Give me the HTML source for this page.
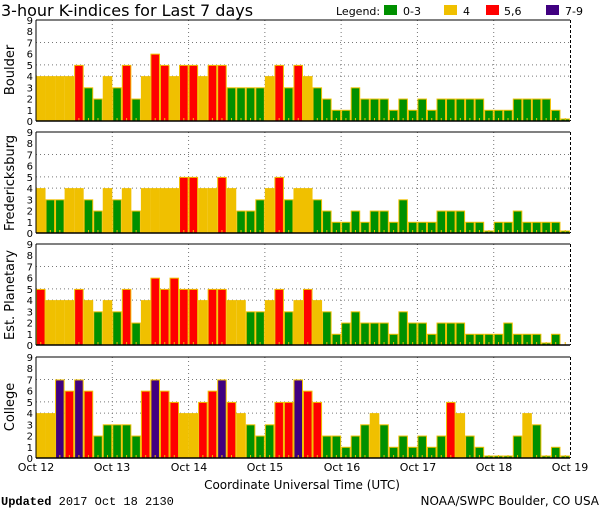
<!DOCTYPE html>
<html><head><meta charset="utf-8"><style>
html,body{margin:0;padding:0;background:#fff;}
svg{display:block;font-family:"DejaVu Sans","Liberation Sans",sans-serif;}
</style></head><body>
<svg id="s" width="600" height="510" xmlns="http://www.w3.org/2000/svg">
<text x="1" y="16" font-size="16">3-hour K-indices for Last 7 days</text>
<text x="336" y="15" font-size="11">Legend:</text>
<rect x="384" y="5" width="13" height="10" fill="#009000"/><text x="403" y="15" font-size="11">0-3</text>
<rect x="444" y="5" width="13" height="10" fill="#f0c000"/><text x="463" y="15" font-size="11">4</text>
<rect x="486" y="5" width="13" height="10" fill="#ff0000"/><text x="504" y="15" font-size="11">5,6</text>
<rect x="546" y="5" width="13" height="10" fill="#400080"/><text x="565" y="15" font-size="11">7-9</text>
<g font-size="13">
<text transform="translate(14,70) rotate(-90)" text-anchor="middle">Boulder</text>
<text transform="translate(14,183) rotate(-90)" text-anchor="middle">Fredericksburg</text>
<text transform="translate(14,295) rotate(-90)" text-anchor="middle">Est. Planetary</text>
<text transform="translate(14,407) rotate(-90)" text-anchor="middle">College</text>
</g>
<g font-size="11" text-anchor="middle">
<text x="36" y="471">Oct 12</text><text x="112" y="471">Oct 13</text><text x="189" y="471">Oct 14</text><text x="265" y="471">Oct 15</text><text x="342" y="471">Oct 16</text><text x="418" y="471">Oct 17</text><text x="494" y="471">Oct 18</text><text x="570" y="471">Oct 19</text>
</g>
<text x="302" y="489" font-size="12" text-anchor="middle">Coordinate Universal Time (UTC)</text>
<text x="1" y="505" font-size="12" font-family="Liberation Mono,monospace"><tspan font-weight="bold">Updated</tspan> 2017 Oct 18 2130</text>
<text x="599" y="505" font-size="12" text-anchor="end">NOAA/SWPC Boulder, CO USA</text>
<g id="g"></g>
</svg>
<script>
var D=[
[4,4,4,4,5,3,2,4,3,5,2,4,6,5,4,5,5,4,5,5,3,3,3,3,4,5,3,5,4,3,2,1,1,3,2,2,2,1,2,1,2,1,2,2,2,2,2,1,1,1,2,2,2,2,1,0],
[4,3,3,4,4,3,2,4,3,4,2,4,4,4,4,5,5,4,4,5,4,2,2,3,4,5,3,4,4,3,2,1,1,2,1,2,2,1,3,1,1,1,2,2,2,1,1,0,1,1,2,1,1,1,1,0],
[5,4,4,4,5,4,3,4,3,5,2,4,6,5,6,5,5,4,5,5,4,4,3,3,4,5,3,4,5,4,3,1,2,3,2,2,2,1,3,2,2,1,2,2,2,1,1,1,1,2,1,1,1,0,1,null],
[4,4,7,6,7,6,2,3,3,3,2,6,7,6,5,4,4,5,6,7,5,4,3,2,3,5,5,7,6,5,2,2,1,2,3,4,3,1,2,1,2,1,2,5,4,2,1,0,0,0,2,4,3,0,1,0]];
var tops=[20,132,244,357],H=101,x0=36,W=534,bw=W/56,u=H/9;
var h='';
function col(v){return v<=3?'#009000':v==4?'#f0c000':v<=6?'#ff0000':'#400080';}
for(var p=0;p<4;p++){var t=tops[p],b=t+H;
 [4,5,7].forEach(function(k){var y=b-k*u;h+='<line x1="36" x2="570" y1="'+y+'" y2="'+y+'" stroke="#777" stroke-dasharray="1,3"/>';});
 for(var d=1;d<7;d++){var x=x0+d*W/7;h+='<line x1="'+x+'" x2="'+x+'" y1="'+t+'" y2="'+b+'" stroke="#777" stroke-dasharray="1,3"/>';}
 for(var i=0;i<56;i++){var v=D[p][i];if(v==null)continue;var hh=v==0?2.5:v*u;var x=x0+i*bw;
  h+='<rect x="'+(x+0.5)+'" y="'+(b-hh+0.5)+'" width="'+(bw-1)+'" height="'+(hh-0.5)+'" fill="'+col(v)+'" stroke="#f0c000" stroke-width="1"/>';}
 for(var i=0;i<56;i++){var x=x0+i*bw+bw/2;h+='<line x1="'+x+'" x2="'+x+'" y1="'+(b-3)+'" y2="'+b+'" stroke="#f0c000"/>';}
 h+='<line x1="36" x2="570" y1="'+t+'" y2="'+t+'" stroke="#000"/>';
 h+='<line x1="36" x2="570" y1="'+b+'" y2="'+b+'" stroke="#000" stroke-width="1.5"/>';
 h+='<line x1="36" x2="36" y1="'+t+'" y2="'+b+'" stroke="#000"/>';
 h+='<line x1="570.5" x2="570.5" y1="'+t+'" y2="'+b+'" stroke="#000" stroke-dasharray="3,2"/>';
 for(var k=0;k<=9;k++){h+='<text x="33" y="'+(b-k*u+4)+'" font-size="10" text-anchor="end">'+k+'</text>';}
}
document.getElementById('g').innerHTML=h;
</script>
</body></html>
